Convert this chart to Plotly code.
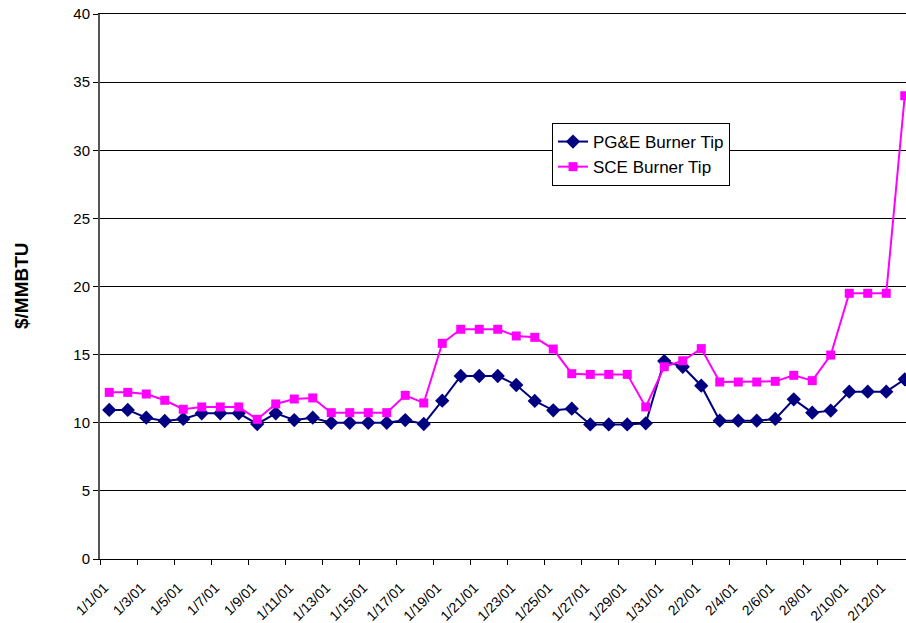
import plotly.graph_objects as go

dates = ["1/1/01","1/2/01","1/3/01","1/4/01","1/5/01","1/6/01","1/7/01","1/8/01","1/9/01","1/10/01",
         "1/11/01","1/12/01","1/13/01","1/14/01","1/15/01","1/16/01","1/17/01","1/18/01","1/19/01","1/20/01",
         "1/21/01","1/22/01","1/23/01","1/24/01","1/25/01","1/26/01","1/27/01","1/28/01","1/29/01","1/30/01",
         "1/31/01","2/1/01","2/2/01","2/3/01","2/4/01","2/5/01","2/6/01","2/7/01","2/8/01","2/9/01",
         "2/10/01","2/11/01","2/12/01","2/13/01"]

pge = [10.94, 10.94, 10.37, 10.13, 10.28, 10.69, 10.69, 10.69, 9.91, 10.69,
       10.20, 10.37, 10.00, 10.00, 10.00, 10.00, 10.20, 9.91, 11.62, 13.43,
       13.43, 13.43, 12.77, 11.60, 10.91, 11.03, 9.88, 9.88, 9.88, 9.96,
       14.53, 14.11, 12.72, 10.15, 10.15, 10.15, 10.28, 11.72, 10.74, 10.89,
       12.28, 12.28, 12.28, 13.19]

sce = [12.23, 12.23, 12.11, 11.65, 10.99, 11.16, 11.16, 11.16, 10.25, 11.38,
       11.74, 11.82, 10.74, 10.74, 10.74, 10.74, 12.01, 11.45, 15.83, 16.86,
       16.86, 16.86, 16.37, 16.27, 15.41, 13.60, 13.55, 13.55, 13.55, 11.16,
       14.11, 14.55, 15.44, 12.99, 12.99, 12.99, 13.04, 13.48, 13.09, 14.97,
       19.50, 19.50, 19.50, 34.00]

y_ticks = [0, 5, 10, 15, 20, 25, 30, 35, 40]

x = list(range(len(dates)))

fig = go.Figure()
fig.add_trace(go.Scatter(
    x=x, y=pge, mode="lines+markers", name="PG&E Burner Tip", legendgroup="a",
    line=dict(color="#000080", width=2),
    marker=dict(symbol="diamond", size=11, color="#000080"),
))
fig.add_trace(go.Scatter(
    x=x, y=sce, mode="lines+markers", name="SCE Burner Tip", legendgroup="b",
    line=dict(color="#FF00FF", width=2),
    marker=dict(symbol="square", size=9, color="#FF00FF"),
))

boundaries = [i - 0.5 for i in x[::2]]

# Figure is wider than the window; the reference plot area runs past the right edge.
W, H = 914, 623
L, T, B = 100, 14, 64
PW = W - L
PH = H - T - B

fig.update_layout(
    width=W, height=H,
    margin=dict(l=L, r=0, t=T, b=B, pad=0),
    paper_bgcolor="white", plot_bgcolor="white",
    font=dict(family="Liberation Sans, Arial, sans-serif", color="black"),
    showlegend=True,
    legend=dict(
        x=(552 - L) / PW, y=(559 - 123) / PH, xanchor="left", yanchor="top",
        bgcolor="white", bordercolor="black", borderwidth=1,
        font=dict(size=17, color="black"),
        traceorder="grouped", tracegroupgap=0,
    ),
    xaxis=dict(
        range=[-0.5, 43.5],
        tickmode="array", tickvals=x[::2], ticktext=dates[::2],
        tickangle=-45, ticks="", tickfont=dict(size=14),
        ticklabelstandoff=14, ticklabelshift=-5,
        showgrid=False, zeroline=False,
        showline=True, linecolor="black", linewidth=1, mirror=True,
        minor=dict(tickmode="array", tickvals=boundaries, ticks="outside",
                   ticklen=5, tickcolor="black", showgrid=False),
    ),
    yaxis=dict(
        range=[0, 40], tickmode="array", tickvals=y_ticks,
        ticks="outside", ticklen=5, tickcolor="black",
        tickfont=dict(size=15),
        showgrid=True, gridcolor="black", gridwidth=1,
        zeroline=False,
        showline=True, linecolor="#555555", linewidth=2,
    ),
    annotations=[dict(
        text="<b>$/MMBTU</b>", xref="paper", yref="paper",
        x=(21 - L) / PW, y=(559 - 286) / PH, textangle=-90,
        showarrow=False, font=dict(size=19, color="black"),
        xanchor="center", yanchor="middle",
    )],
)

fig.write_html(
    "out.html",
    config={"displayModeBar": False},
    post_script="document.body.style.margin='0';document.body.style.overflow='hidden';",
)
